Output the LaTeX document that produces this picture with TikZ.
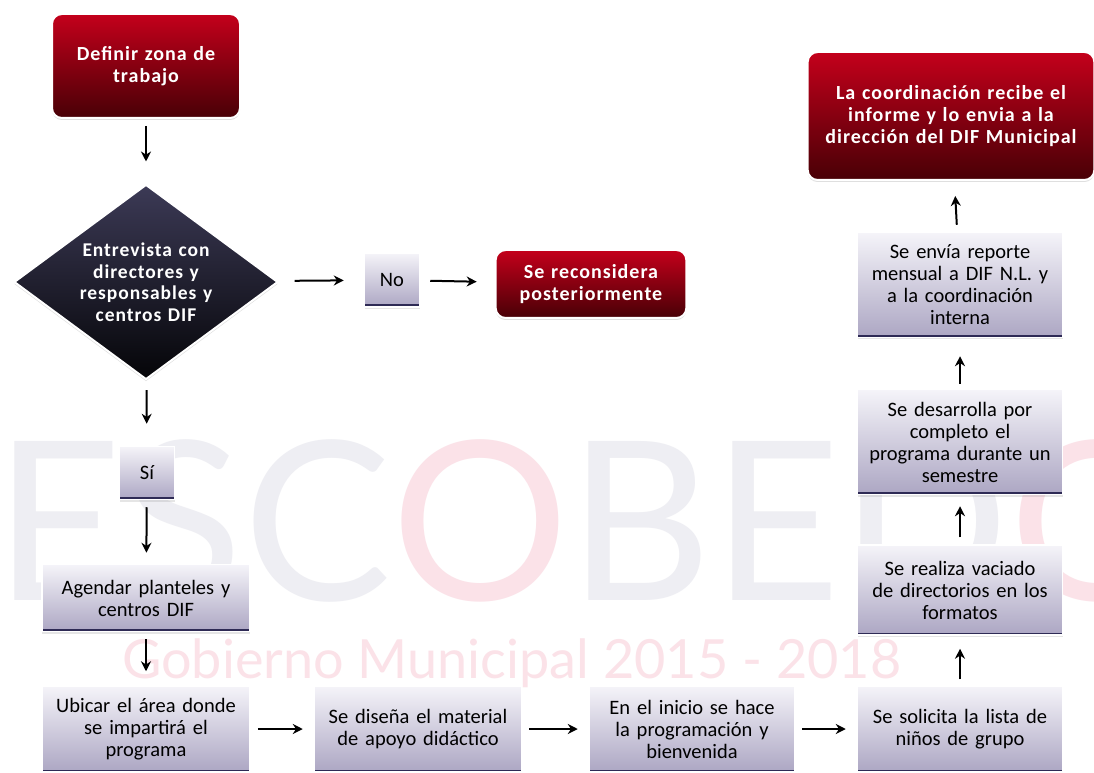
\documentclass[tikz,border=0pt]{standalone}
\usepackage{fontspec}
\setmainfont{Carlito}
\newfontfamily\markfont{Lato}
\usepackage{xcolor}
\usepackage{tikz}
\usetikzlibrary{positioning, arrows.meta, calc, shapes.geometric, shadows}
\definecolor{redtop}{HTML}{C4001B}
\definecolor{redbot}{HTML}{480006}
\definecolor{navytop}{HTML}{3C3A56}
\definecolor{navybot}{HTML}{050508}
\definecolor{boxtop}{HTML}{F5F4F9}
\definecolor{boxbot}{HTML}{ACA6C3}
\definecolor{boxedge}{HTML}{2E2A55}
\definecolor{markgray}{HTML}{EEEEF3}
\definecolor{markpink}{HTML}{FBE2E8}

\tikzset{
  redbox/.style={rectangle, rounded corners=10pt, top color=redtop, bottom color=redbot,
    draw=white, line width=2pt, text=white, align=center,
    font=\addfontfeatures{LetterSpace=5}\bfseries\fontsize{20}{22}\selectfont,
    drop shadow={opacity=0.25, shadow xshift=0pt, shadow yshift=-2pt}},
  graybox/.style={rectangle, top color=boxtop, bottom color=boxbot, draw=white, line width=1.5pt,
    align=center, font=\fontsize{20.5}{22}\selectfont, inner sep=0pt,
    drop shadow={opacity=0.2, shadow xshift=0pt, shadow yshift=-2pt},
    path picture={\draw[boxedge, line width=5pt] (path picture bounding box.south west) -- (path picture bounding box.south east);}},
  decision/.style={diamond, aspect=1.35, inner sep=0pt, top color=navytop, bottom color=navybot,
    draw=white, line width=2pt, text=white, align=center, text width=150pt,
    font=\addfontfeatures{LetterSpace=5}\bfseries\fontsize{19.5}{21.5}\selectfont,
    drop shadow={opacity=0.25, shadow xshift=0pt, shadow yshift=-2pt}},
  flow/.style={-{Stealth[length=10pt, width=10pt]}, line width=2pt, shorten <=7pt, shorten >=11pt}
}

\begin{document}
\begin{tikzpicture}[x=1pt, y=1pt]
  \useasboundingbox (0,0) rectangle (1094,772);
  \clip (0,0) rectangle (1094,772);
  \fill[white] (0,0) rectangle (1094,772);

  \node[anchor=base west, inner sep=0pt, text=markgray, font=\markfont\fontsize{222}{222}\selectfont] (mark) at (-6,172)
    {ESC\textcolor{markpink}{O}BED\textcolor{markpink}{O}};
  \node[anchor=base west, inner sep=0pt, text=markpink, font=\markfont\fontsize{54}{54}\selectfont] (markline) at (122,94)
    {Gobierno Municipal 2015 - 2018};

  \node[redbox, minimum width=188pt, minimum height=104pt, text width=178pt] (zona) at (146,706)
    {Definir zona de\\trabajo};
  \node[decision, minimum width=264pt, minimum height=195pt] (entrevista) at (146,490)
    {Entrevista con\\directores y\\responsables y\\centros DIF};
  \node[graybox, minimum width=55pt, minimum height=54pt] (no) at (392,492) {No};
  \node[redbox, minimum width=190pt, minimum height=68pt, text width=184pt] (reconsidera) at (591,488)
    {Se reconsidera\\posteriormente};
  \node[graybox, minimum width=55pt, minimum height=53pt] (si) at (147,299) {Sí};
  \node[graybox, minimum width=208pt, minimum height=67pt, text width=204pt] (agendar) at (146,174)
    {Agendar planteles y\\centros DIF};
  \node[graybox, minimum width=208pt, minimum height=86pt, text width=204pt] (ubicar) at (146,43)
    {Ubicar el área donde\\se impartirá el\\programa};
  \node[graybox, minimum width=207pt, minimum height=86pt, text width=204pt] (disena) at (418,43)
    {Se diseña el material\\de apoyo didáctico};
  \node[graybox, minimum width=205pt, minimum height=86pt, text width=202pt] (inicio) at (692,43)
    {En el inicio se hace\\la programación y\\bienvenida};
  \node[graybox, minimum width=205pt, minimum height=86pt, text width=202pt] (solicita) at (960,43)
    {Se solicita la lista de\\niños de grupo};
  \node[graybox, minimum width=205pt, minimum height=90pt, text width=202pt] (vaciado) at (960,182)
    {Se realiza vaciado\\de directorios en los\\formatos};
  \node[graybox, minimum width=205pt, minimum height=105pt, text width=202pt] (desarrolla) at (960,330)
    {Se desarrolla por\\completo el\\programa durante un\\semestre};
  \node[graybox, minimum width=205pt, minimum height=105pt, text width=202pt] (reporte) at (960,487)
    {Se envía reporte\\mensual a DIF N.L. y\\a la coordinación\\interna};
  \node[redbox, minimum width=286pt, minimum height=128pt, text width=280pt] (coordinacion) at (951,656)
    {La coordinación recibe el\\informe y lo envia a la\\dirección del DIF Municipal};

  \draw[flow, shorten >=22pt] (zona) -- (entrevista);
  \draw[flow, shorten <=17pt, shorten >=20pt] (entrevista) -- (no);
  \draw[flow, shorten <=10pt, shorten >=18pt] (no) -- (reconsidera);
  \draw[flow, shorten <=10pt, shorten >=22pt] (entrevista) -- (si);
  \draw[flow] (si) -- (agendar);
  \draw[flow, shorten >=14pt] (agendar) -- (ubicar);
  \draw[flow] (ubicar) -- (disena);
  \draw[flow] (disena) -- (inicio);
  \draw[flow] (inicio) -- (solicita);
  \draw[flow, shorten <=6pt, shorten >=13pt] (solicita) -- (vaciado);
  \draw[flow] (vaciado) -- (desarrolla);
  \draw[flow, shorten <=5pt, shorten >=18pt] (desarrolla) -- (reporte);
  \draw[flow, shorten >=15pt] (reporte) -- (coordinacion);
\end{tikzpicture}
\end{document}
